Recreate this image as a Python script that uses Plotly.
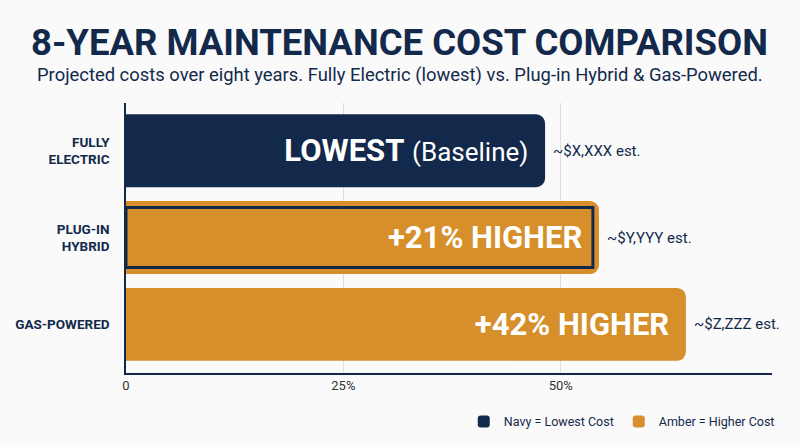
import plotly.graph_objects as go

categories = ["FULLY<br>ELECTRIC", "PLUG-IN<br>HYBRID", "GAS-POWERED"]
relative_cost = [48.2, 54.4, 64.4]          # bar length, % of scale
bar_labels = [
    "<b>LOWEST</b> <span style='font-size:26px'>(Baseline)</span>\u00a0",
    "<b>+21% HIGHER</b>\u00a0",
    "<b>+42% HIGHER</b>\u00a0",
]
cost_notes = ["~$X,XXX est.", "~$Y,YYY est.", "~$Z,ZZZ est."]
highlight_value = 53.7                       # inner outline on plug-in hybrid
tick_vals = [0, 25, 50]
tick_text = ["0", "25%", "50%"]
title_text = "<b>8-YEAR MAINTENANCE COST COMPARISON</b>"
subtitle_text = ("Projected costs over eight years. Fully Electric (lowest) vs. "
                 "Plug-in Hybrid &amp; Gas-Powered.")

NAVY = "#13294B"
AMBER = "#D68F2A"
BG = "#FAFAFA"

fig = go.Figure()

fig.add_trace(go.Bar(
    y=[categories[0]], x=[relative_cost[0]], orientation="h",
    marker=dict(color=NAVY, line=dict(width=0)),
    width=0.84, text=[bar_labels[0]], textposition="inside",
    insidetextanchor="end", textangle=0,
    textfont=dict(family="Roboto", size=31, color="white"),
    name="Navy = Lowest Cost", hoverinfo="skip",
))
fig.add_trace(go.Bar(
    y=categories[1:], x=relative_cost[1:], orientation="h",
    marker=dict(color=AMBER, line=dict(width=0)),
    width=0.84, text=bar_labels[1:], textposition="inside",
    insidetextanchor="end", textangle=0,
    textfont=dict(family="Roboto", size=31, color="white"),
    name="Amber = Higher Cost", hoverinfo="skip",
))
fig.add_trace(go.Bar(
    y=[categories[1]], x=[highlight_value], orientation="h",
    marker=dict(color="rgba(0,0,0,0)", line=dict(color=NAVY, width=3),
                cornerradius=6),
    width=0.69, showlegend=False, hoverinfo="skip",
))

for cat, val, note in zip(categories, relative_cost, cost_notes):
    fig.add_annotation(
        x=val, y=cat, text=note, showarrow=False, xanchor="left",
        xshift=6, font=dict(family="Roboto", size=15, color=NAVY),
    )

fig.add_annotation(
    text=title_text, xref="paper", yref="paper", x=0.424, y=1.0,
    yshift=61, showarrow=False, xanchor="center", yanchor="middle",
    font=dict(family="Roboto", size=36.5, color=NAVY),
)
fig.add_annotation(
    text=subtitle_text, xref="paper", yref="paper", x=0.424, y=1.0,
    yshift=28, showarrow=False, xanchor="center", yanchor="middle",
    font=dict(family="Roboto", size=18.4, color=NAVY),
)

fig.update_layout(
    width=800, height=447,
    paper_bgcolor=BG, plot_bgcolor=BG,
    barmode="overlay", barcornerradius=9,
    margin=dict(l=126, r=28, t=103, b=74, autoexpand=False),
    xaxis=dict(
        range=[0, 74.3], tickvals=tick_vals, ticktext=tick_text,
        showgrid=True, gridcolor="#DDDDDD", gridwidth=1,
        zeroline=False, showline=True, linecolor=NAVY, linewidth=1.5,
        tickfont=dict(family="Roboto", size=13, color="#333333"),
        ticks="", ticklen=0, fixedrange=True, automargin=False,
    ),
    yaxis=dict(
        autorange=False, range=[2.56, -0.55],
        showline=True, linecolor=NAVY, linewidth=1.5, showgrid=False,
        tickfont=dict(family="Roboto", size=13.5, color=NAVY),
        ticks="", ticklabelstandoff=12, automargin=False,
        tickprefix="<b>", ticksuffix="</b>",
    ),
    legend=dict(
        orientation="h", x=1.012, xanchor="right", y=-0.125, yanchor="top",
        font=dict(family="Roboto", size=12.5, color=NAVY),
        bgcolor="rgba(0,0,0,0)", itemwidth=30,
    ),
    font=dict(family="Roboto"),
)

fig.write_html(
    "out.html",
    config={"displayModeBar": False},
    post_script="document.body.style.margin='0';document.body.style.background='#FAFAFA';",
)
